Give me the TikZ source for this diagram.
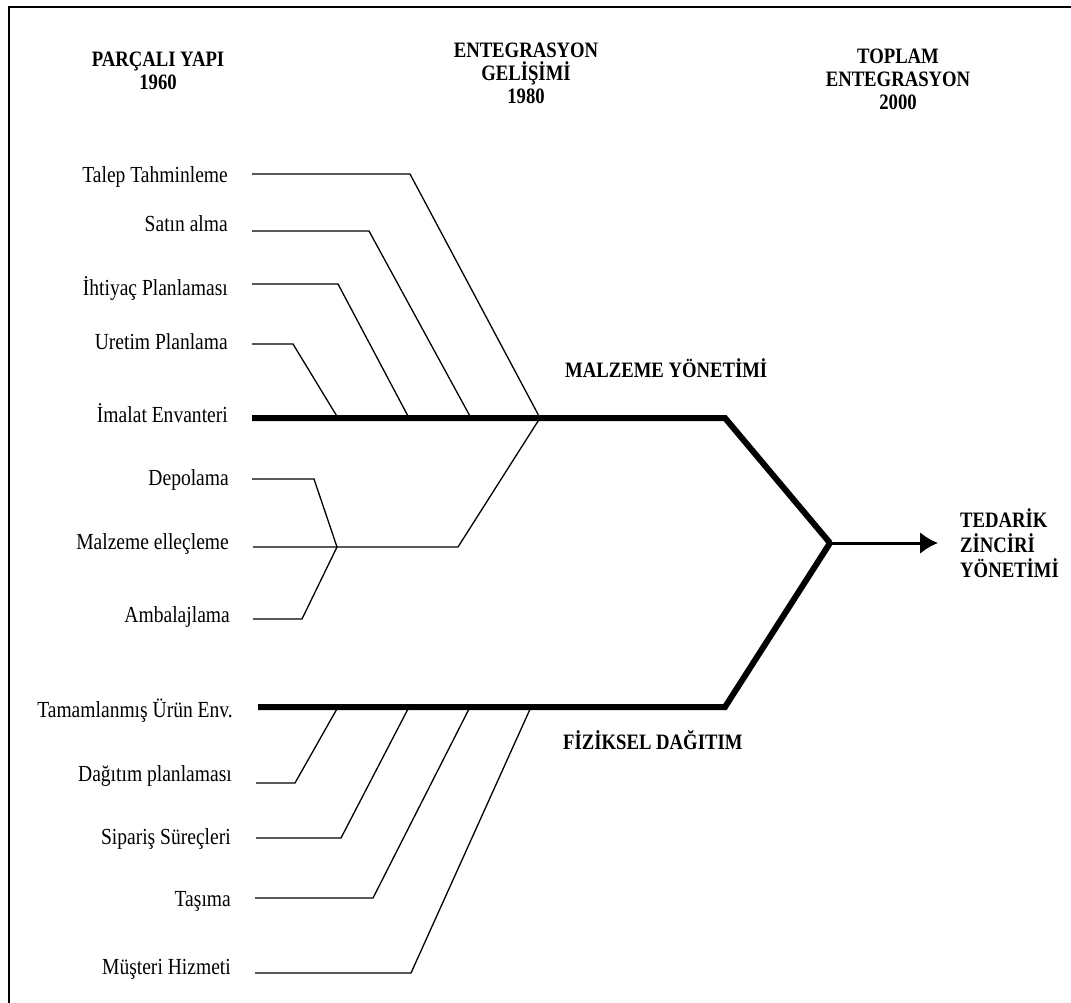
\documentclass[tikz,border=0pt]{standalone}
\usepackage{fontspec}
\setmainfont[FakeStretch=0.85]{Liberation Serif}
\usetikzlibrary{arrows.meta}
\begin{document}
\begin{tikzpicture}[x=1pt,y=-1pt,>={Latex[length=18pt,width=22pt]},
  lbl/.style={anchor=east, inner sep=0pt, text height=15pt, text depth=0pt, font=\fontsize{23}{24}\selectfont},
  baslik/.style={align=center, inner sep=0pt, font=\bfseries\fontsize{22}{23}\selectfont},
  ince/.style={line width=1.3pt},
  kalin/.style={line width=6pt}]
\useasboundingbox (0,0) rectangle (1071,1003);
\draw[line width=1.8pt] (9,1003) -- (9,7) -- (1071,7);

\node(P1960)[baslik] at (158,71) {PARÇALI YAPI\\1960};
\node(E1980)[baslik] at (526,73) {ENTEGRASYON\\GELİŞİMİ\\1980};
\node(T2000)[baslik] at (898,79) {TOPLAM\\ENTEGRASYON\\2000};

\node(Talep)[lbl] at (228,175) {Talep Tahminleme};
\node(Satin)[lbl] at (228,224) {Satın alma};
\node(Ihtiyac)[lbl] at (228,288) {İhtiyaç Planlaması};
\node(Uretim)[lbl] at (228,342) {Uretim Planlama};
\node(Imalat)[lbl] at (228,415) {İmalat Envanteri};
\node(Depo)[lbl] at (229,478) {Depolama};
\node(Elle)[lbl] at (229,542) {Malzeme elleçleme};
\node(Ambal)[lbl] at (230,615) {Ambalajlama};
\node(Tamam)[lbl] at (233,710) {Tamamlanmış Ürün Env.};
\node(Dagit)[lbl] at (232,774) {Dağıtım planlaması};
\node(Sipar)[lbl] at (231,837) {Sipariş Süreçleri};
\node(Tasi)[lbl] at (231,899) {Taşıma};
\node(Muster)[lbl] at (231,967) {Müşteri Hizmeti};

\node(MY)[baslik, anchor=west, text height=15pt, text depth=0pt] at (565,370) {MALZEME YÖNETİMİ};
\node(FD)[baslik, anchor=west, text height=15pt, text depth=0pt] at (563,742) {FİZİKSEL DAĞITIM};
\node(TZY)[baslik, anchor=west, align=left, font=\bfseries\fontsize{22}{25}\selectfont] at (960,543) {TEDARİK\\ZİNCİRİ\\YÖNETİMİ};

\coordinate(KoseU) at (725,418);
\coordinate(KoseA) at (725,707);
\coordinate(Uc) at (830,543);
\coordinate(HubM) at (540,418);
\coordinate(HubD) at (337,547);
\coordinate(S1) at (338,418);
\coordinate(S2) at (409,418);
\coordinate(S3) at (471,418);
\coordinate(D1) at (338,707);
\coordinate(D2) at (409,707);
\coordinate(D3) at (470,707);
\coordinate(D4) at (531,707);

% malzeme yonetimi
\draw[ince] ([xshift=24pt]Talep.east |- 0,174) -- (410,174) -- (HubM);
\draw[ince] ([xshift=24pt]Satin.east |- 0,231) -- (369,231) -- (S3);
\draw[ince] ([xshift=24pt]Ihtiyac.east |- 0,284) -- (338,284) -- (S2);
\draw[ince] ([xshift=24pt]Uretim.east |- 0,344) -- (293,344) -- (S1);
\draw[ince] ([xshift=23pt]Depo.east |- 0,479) -- (314,479) -- (HubD);
\draw[ince] ([xshift=23pt]Ambal.east |- 0,619) -- (302,619) -- (HubD);
\draw[ince] ([xshift=24pt]Elle.east |- HubD) -- (HubD) -- (458,547) -- (HubM);
\draw[kalin] ([xshift=24pt]Imalat.east |- KoseU) -- (KoseU) -- (Uc);

% fiziksel dagitim
\draw[kalin] ([xshift=25pt]Tamam.east |- KoseA) -- (KoseA) -- (Uc);
\draw[ince] ([xshift=24pt]Dagit.east |- 0,783) -- (295,783) -- (D1);
\draw[ince] ([xshift=25pt]Sipar.east |- 0,838) -- (341,838) -- (D2);
\draw[ince] ([xshift=24pt]Tasi.east |- 0,898) -- (373,898) -- (D3);
\draw[ince] ([xshift=24pt]Muster.east |- 0,973) -- (411,973) -- (D4);

\draw[->, line width=3pt] (Uc) -- ([xshift=-22pt]TZY.west |- Uc);
\end{tikzpicture}
\end{document}
